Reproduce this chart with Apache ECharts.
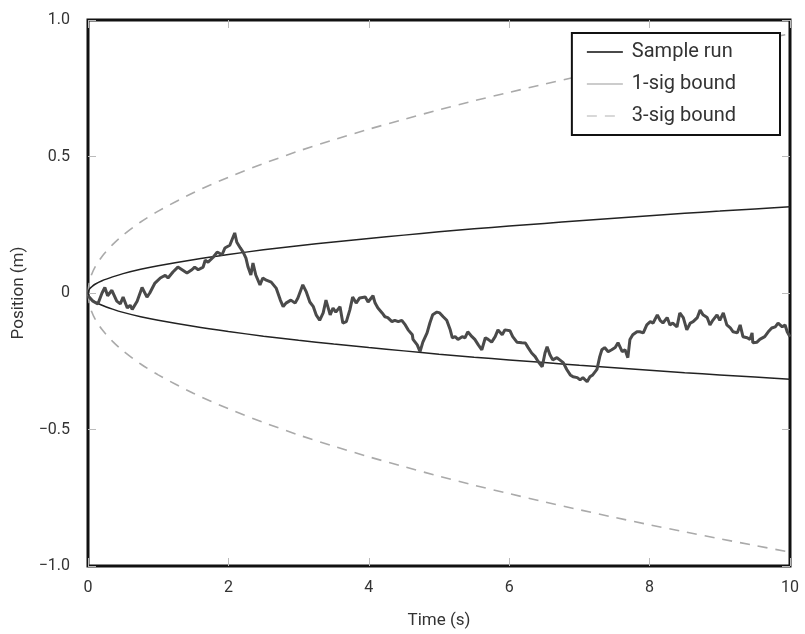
<!DOCTYPE html>
<html>
<head>
<meta charset="utf-8">
<title>Sample run</title>
<script src="https://cdn.jsdelivr.net/npm/echarts@6/dist/echarts.min.js"></script>
<style>
  html, body { margin: 0; padding: 0; background: #fff; }
  #chart { width: 805px; height: 634px; }
</style>
</head>
<body>
<div id="chart"></div>
<script>
// time ticks and axis labels
var xTicks = [0, 2, 4, 6, 8, 10];
var yTickLabels = { '1': '1.0', '0.5': '0.5', '0': '0', '-0.5': '\u22120.5', '-1': '\u22121.0' };

// sample run
var walkT = [0.00, 0.07, 0.14, 0.20, 0.24, 0.28, 0.34, 0.41, 0.46, 0.50, 0.56, 0.60, 0.63, 0.70, 0.71, 0.77, 0.84, 0.88, 0.95, 1.03,
  1.10, 1.14, 1.21, 1.28, 1.34, 1.41, 1.48, 1.52, 1.57, 1.64, 1.67, 1.71, 1.78, 1.84, 1.91, 1.95, 2.02, 2.04, 2.09, 2.12,
  2.17, 2.21, 2.25, 2.28, 2.32, 2.35, 2.39, 2.45, 2.49, 2.54, 2.61, 2.68, 2.74, 2.78, 2.82, 2.89, 2.95, 2.99, 3.06, 3.11,
  3.16, 3.21, 3.25, 3.30, 3.35, 3.39, 3.45, 3.49, 3.53, 3.59, 3.63, 3.68, 3.73, 3.77, 3.82, 3.87, 3.95, 3.99, 4.06, 4.09,
  4.13, 4.19, 4.23, 4.27, 4.33, 4.37, 4.42, 4.47, 4.52, 4.56, 4.62, 4.63, 4.69, 4.73, 4.77, 4.83, 4.87, 4.91, 4.97, 5.01,
  5.06, 5.11, 5.16, 5.19, 5.23, 5.27, 5.33, 5.37, 5.41, 5.47, 5.51, 5.56, 5.61, 5.66, 5.70, 5.75, 5.80, 5.84, 5.90, 5.94,
  6.01, 6.05, 6.11, 6.18, 6.23, 6.27, 6.32, 6.37, 6.41, 6.47, 6.51, 6.54, 6.58, 6.62, 6.68, 6.72, 6.77, 6.82, 6.87, 6.91,
  6.97, 7.01, 7.05, 7.11, 7.15, 7.19, 7.25, 7.29, 7.32, 7.36, 7.41, 7.46, 7.51, 7.55, 7.61, 7.65, 7.69, 7.72, 7.76, 7.82,
  7.86, 7.91, 7.96, 8.01, 8.05, 8.11, 8.15, 8.19, 8.25, 8.29, 8.33, 8.39, 8.43, 8.48, 8.53, 8.58, 8.62, 8.68, 8.72, 8.76,
  8.82, 8.86, 8.90, 8.96, 9.00, 9.05, 9.10, 9.15, 9.19, 9.25, 9.29, 9.33, 9.39, 9.43, 9.46, 9.47, 9.53, 9.57, 9.64, 9.69,
  9.74, 9.79, 9.83, 9.89, 9.93, 9.96, 10.0];
var walkV = [-0.010, -0.030, -0.040, 0.000, 0.020, -0.010, 0.010, -0.030, -0.040, -0.015, -0.055, -0.045, -0.060, -0.030, -0.035, 0.020, -0.015, 0.000, 0.035, 0.055,
  0.065, 0.055, 0.077, 0.095, 0.085, 0.073, 0.085, 0.095, 0.085, 0.095, 0.120, 0.113, 0.130, 0.150, 0.140, 0.165, 0.175, 0.175, 0.220, 0.186,
  0.165, 0.150, 0.128, 0.095, 0.066, 0.110, 0.066, 0.030, 0.055, 0.047, 0.040, 0.018, -0.026, -0.050, -0.037, -0.026, -0.037, -0.018, 0.030, 0.004,
  -0.033, -0.050, -0.080, -0.100, -0.073, -0.026, -0.080, -0.055, -0.070, -0.050, -0.110, -0.105, -0.062, -0.015, -0.037, -0.018, -0.015, -0.033, -0.010, -0.037,
  -0.055, -0.073, -0.087, -0.090, -0.105, -0.100, -0.105, -0.100, -0.117, -0.135, -0.153, -0.170, -0.190, -0.215, -0.180, -0.146, -0.110, -0.080, -0.070, -0.073,
  -0.087, -0.100, -0.135, -0.164, -0.160, -0.170, -0.160, -0.164, -0.142, -0.160, -0.170, -0.190, -0.208, -0.164, -0.170, -0.180, -0.160, -0.135, -0.153, -0.135,
  -0.138, -0.160, -0.180, -0.182, -0.183, -0.200, -0.220, -0.233, -0.250, -0.270, -0.220, -0.197, -0.226, -0.245, -0.237, -0.245, -0.255, -0.280, -0.300, -0.307,
  -0.310, -0.318, -0.310, -0.325, -0.307, -0.300, -0.280, -0.233, -0.208, -0.200, -0.215, -0.208, -0.200, -0.182, -0.215, -0.208, -0.237, -0.170, -0.153, -0.142,
  -0.142, -0.146, -0.117, -0.105, -0.110, -0.080, -0.100, -0.110, -0.090, -0.117, -0.110, -0.124, -0.073, -0.090, -0.135, -0.110, -0.105, -0.090, -0.062, -0.080,
  -0.090, -0.117, -0.100, -0.080, -0.100, -0.073, -0.117, -0.128, -0.142, -0.146, -0.117, -0.160, -0.164, -0.170, -0.146, -0.182, -0.180, -0.170, -0.160, -0.142,
  -0.128, -0.124, -0.110, -0.124, -0.117, -0.142, -0.160];

// bound curves
var boundT = [0, 0.02, 0.05, 0.1, 0.2, 0.35, 0.5, 0.75, 1, 1.5, 2, 2.5, 3, 3.5, 4, 4.5, 5, 5.5, 6, 6.5, 7, 7.5, 8, 8.5, 9, 9.5, 10];
var sig1 = [0, 0.014, 0.022, 0.032, 0.045, 0.059, 0.071, 0.087, 0.100, 0.122, 0.141, 0.158, 0.173, 0.187, 0.200, 0.212, 0.224,
  0.235, 0.245, 0.255, 0.265, 0.274, 0.283, 0.292, 0.300, 0.308, 0.316];
var sig3 = [0, 0.042, 0.067, 0.095, 0.134, 0.177, 0.212, 0.260, 0.300, 0.367, 0.424, 0.474, 0.520, 0.561, 0.600, 0.636, 0.671,
  0.704, 0.735, 0.765, 0.794, 0.822, 0.849, 0.875, 0.900, 0.925, 0.949];

function pairs(xs, ys, sign) {
  var out = [];
  for (var i = 0; i < xs.length; i++) {
    out.push([xs[i], sign * ys[i]]);
  }
  return out;
}

var font = 'Roboto, "Liberation Sans", sans-serif';
var chart = echarts.init(document.getElementById('chart'));

var tickStyle = { show: true, inside: true, length: 8, lineStyle: { color: '#bbb', width: 1 } };

chart.setOption({
  animation: false,
  backgroundColor: '#fff',
  grid: { left: 88, right: 15, top: 20, bottom: 66, show: true, borderColor: '#111', borderWidth: 3, backgroundColor: 'transparent' },
  legend: {
    orient: 'vertical',
    right: 25,
    top: 33,
    backgroundColor: '#fff',
    borderColor: '#111',
    borderWidth: 2,
    borderRadius: 0,
    padding: [9, 44, 9, 14],
    itemWidth: 36,
    itemHeight: 10,
    itemGap: 12,
    itemStyle: { opacity: 0 },
    textStyle: { fontFamily: font, fontSize: 20, color: '#333', padding: [0, 0, 0, 4] },
    data: [
      { name: 'Sample run' },
      { name: '1-sig bound', lineStyle: { color: '#999', width: 1 } },
      { name: '3-sig bound', lineStyle: { color: '#ccc', width: 1.5 } }
    ]
  },
  xAxis: [{
    type: 'value',
    min: 0,
    max: 10,
    interval: 2,
    name: 'Time (s)',
    nameLocation: 'middle',
    nameGap: 46,
    nameTextStyle: { fontFamily: font, fontSize: 17, color: '#333' },
    axisLine: { show: false, onZero: false },
    axisTick: tickStyle,
    splitLine: { show: false },
    axisLabel: { fontFamily: font, fontSize: 16, color: '#333', margin: 14 }
  }, {
    type: 'value',
    position: 'top',
    min: 0,
    max: 10,
    interval: 2,
    axisLine: { show: false, onZero: false },
    axisTick: tickStyle,
    splitLine: { show: false },
    axisLabel: { show: false }
  }],
  yAxis: [{
    type: 'value',
    min: -1,
    max: 1,
    interval: 0.5,
    name: 'Position (m)',
    nameLocation: 'middle',
    nameGap: 60,
    nameTextStyle: { fontFamily: font, fontSize: 17, color: '#333' },
    axisLine: { show: false, onZero: false },
    axisTick: tickStyle,
    splitLine: { show: false },
    axisLabel: {
      fontFamily: font, fontSize: 16, color: '#333', margin: 18,
      formatter: function (v) { return yTickLabels[String(v)]; }
    }
  }, {
    type: 'value',
    position: 'right',
    min: -1,
    max: 1,
    interval: 0.5,
    axisLine: { show: false, onZero: false },
    axisTick: tickStyle,
    splitLine: { show: false },
    axisLabel: { show: false }
  }],
  series: [{
    name: '3-sig bound',
    type: 'line',
    symbol: 'none',
    smooth: 0.3,
    data: pairs(boundT, sig3, 1),
    lineStyle: { color: '#aaa', width: 1.6, type: [10, 8] },
    itemStyle: { color: '#aaa' }
  }, {
    name: '3-sig bound',
    type: 'line',
    symbol: 'none',
    smooth: 0.3,
    data: pairs(boundT, sig3, -1),
    lineStyle: { color: '#aaa', width: 1.6, type: [10, 8] },
    itemStyle: { color: '#aaa' }
  }, {
    name: '1-sig bound',
    type: 'line',
    symbol: 'none',
    smooth: 0.3,
    data: pairs(boundT, sig1, 1),
    lineStyle: { color: '#222', width: 1.5 },
    itemStyle: { color: '#222' }
  }, {
    name: '1-sig bound',
    type: 'line',
    symbol: 'none',
    smooth: 0.3,
    data: pairs(boundT, sig1, -1),
    lineStyle: { color: '#222', width: 1.5 },
    itemStyle: { color: '#222' }
  }, {
    name: 'Sample run',
    type: 'line',
    symbol: 'none',
    data: pairs(walkT, walkV, 1),
    lineStyle: { color: '#4a4a4a', width: 3 },
    itemStyle: { color: '#4a4a4a' },
    z: 5
  }]
});
</script>
</body>
</html>
